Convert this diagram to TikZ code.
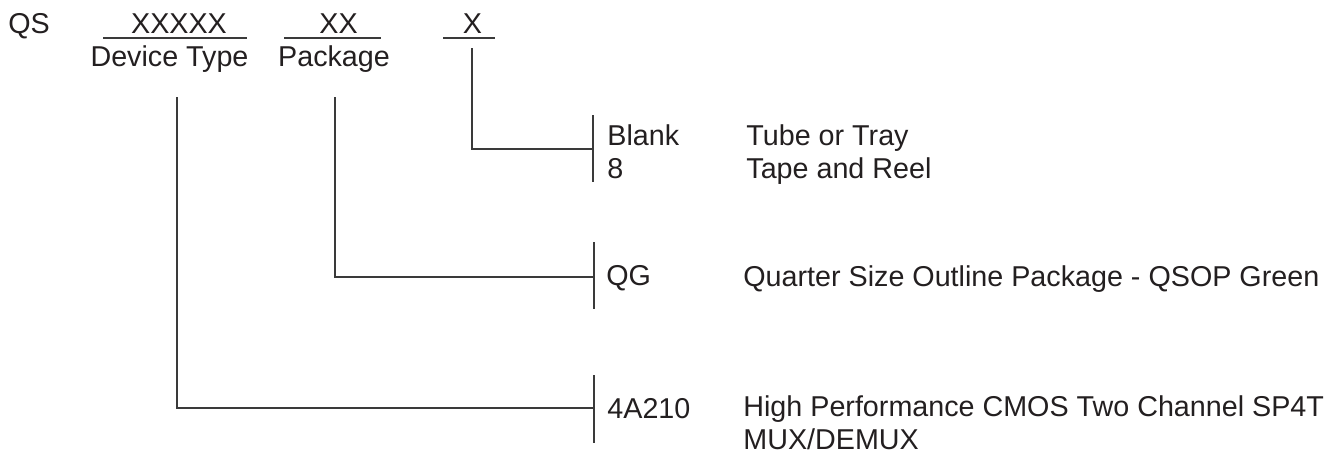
\documentclass[tikz,border=0pt]{standalone}
\usepackage{fontspec}
\setmainfont{Liberation Sans}
\definecolor{txt}{HTML}{231F20}
\definecolor{lnc}{HTML}{3A3A3A}
\begin{document}
\begin{tikzpicture}[x=0.5pt,y=-0.5pt,
  lbl/.style={anchor=base west,inner sep=0pt,font=\fontsize{14.35}{16.5}\selectfont,text=txt},
  clbl/.style={lbl,anchor=base},
  ln/.style={draw=lnc,line width=0.65pt}]
\useasboundingbox (0,0) rectangle (1335,456);
% header
\node[lbl]  (qs)  at (8,33)     {QS};
\node[clbl] (dtx) at (179,33)   {XXXXX};
\node[clbl] (pkx) at (338.5,33) {XX};
\node[clbl] (tpx) at (472.5,33) {X};
\draw[ln] (103,38) -- (247,38);
\draw[ln] (284,38) -- (381,38);
\draw[ln] (443,38) -- (495,38);
\node[clbl] (dt) at (169.5,66) {Device Type};
\node[clbl] (pk) at (334,66)   {Package};
% packing option
\coordinate (tpstart) at (472,48);
\coordinate (tpbar) at (593,149);
\coordinate (tpbart) at (593,115);
\coordinate (tpbarb) at (593,182);
\draw[ln] (tpstart) |- (tpbar);
\draw[ln] (tpbart) -- (tpbarb);
\node[lbl] (blank) at (607,145) {Blank};
\node[lbl] (eight) at (607,178) {8};
\node[lbl] (tube)  at (746,145) {Tube or Tray};
\node[lbl] (tape)  at (746,178) {Tape and Reel};
% package
\coordinate (pkstart) at (335,97);
\coordinate (pkbar) at (594,277);
\coordinate (pkbart) at (594,242);
\coordinate (pkbarb) at (594,309);
\draw[ln] (pkstart) |- (pkbar);
\draw[ln] (pkbart) -- (pkbarb);
\node[lbl] (qg)   at (606,285) {QG};
\node[lbl] (qsop) at (743,286) {Quarter Size Outline Package - QSOP Green};
% device type
\coordinate (dtstart) at (177,97);
\coordinate (dtbar) at (594,408);
\coordinate (dtbart) at (594,375);
\coordinate (dtbarb) at (594,443);
\draw[ln] (dtstart) |- (dtbar);
\draw[ln] (dtbart) -- (dtbarb);
\node[lbl] (dev)  at (607,418) {4A210};
\node[lbl] (hp)   at (743,416) {High Performance CMOS Two Channel SP4T};
\node[lbl] (mux)  at (743,449) {MUX/DEMUX};
\end{tikzpicture}
\end{document}
